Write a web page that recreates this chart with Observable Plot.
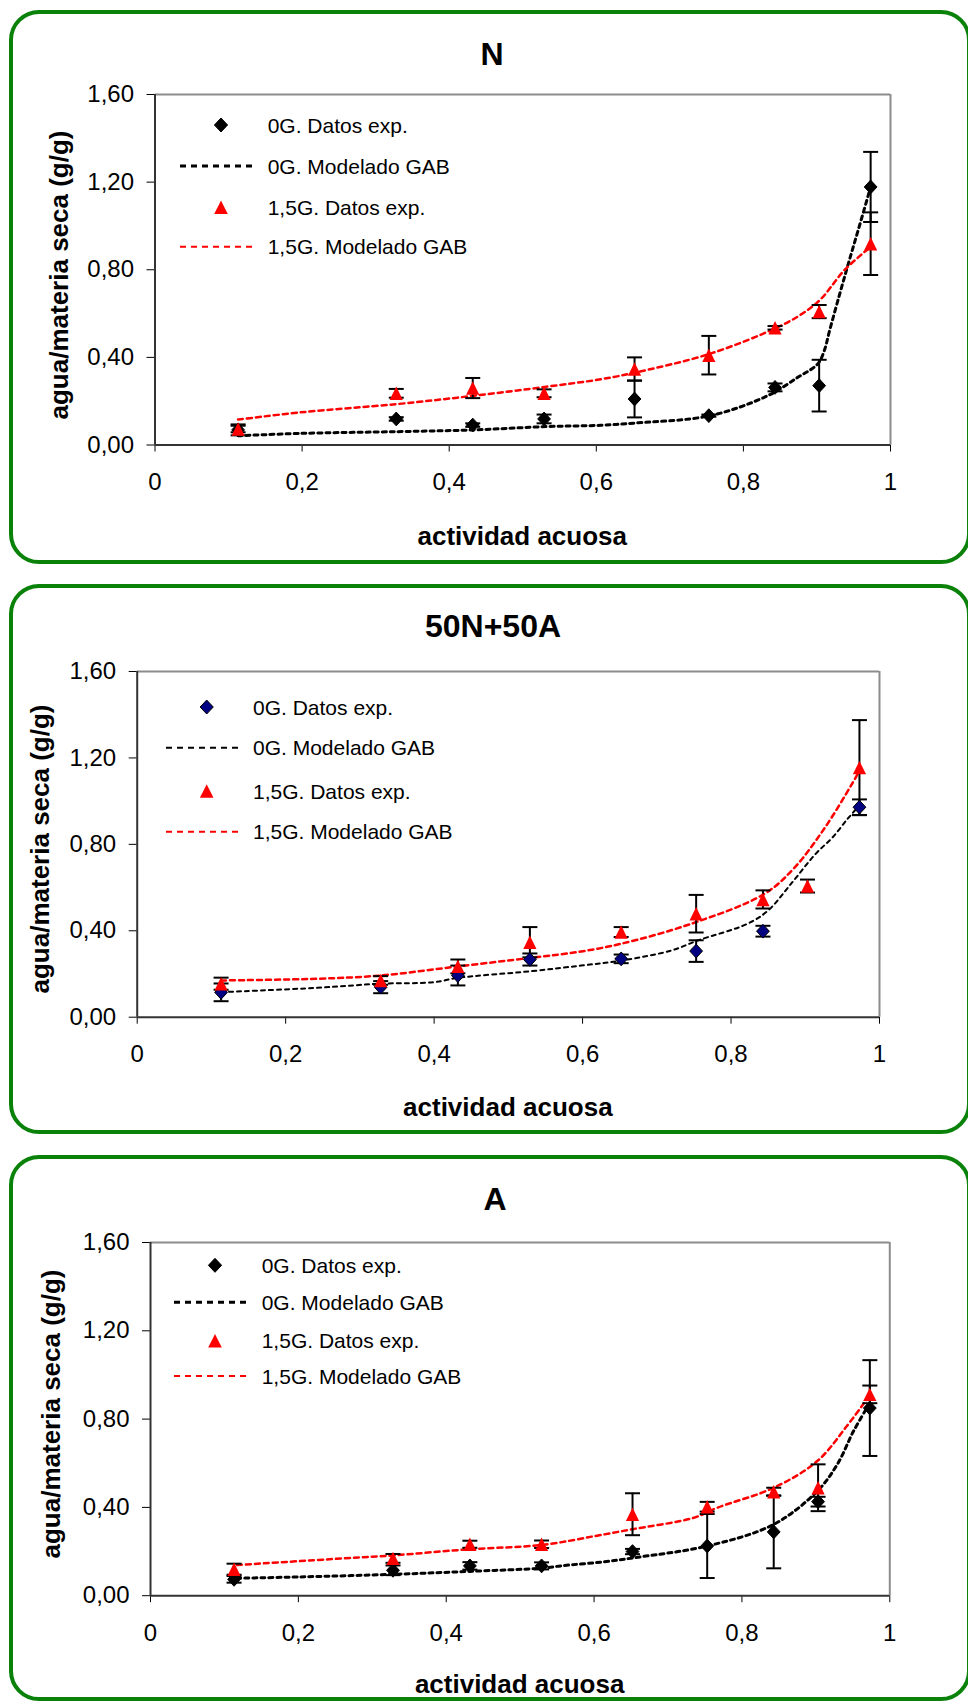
<!DOCTYPE html>
<html><head><meta charset="utf-8">
<script src="https://cdn.jsdelivr.net/npm/d3@7"></script>
<script src="https://cdn.jsdelivr.net/npm/@observablehq/plot@0.6"></script>
<style>
html,body{margin:0;padding:0;background:#fff;overflow:hidden}
#page{position:relative;width:968px;height:1702px;background:#fff;overflow:hidden}
</style></head><body><div id="page"></div>
<script>
// ---------------- data ----------------
const aw = [0.113, 0.328, 0.432, 0.529, 0.652, 0.753, 0.843, 0.903, 0.973];
const xTicks = [0, 0.2, 0.4, 0.6, 0.8, 1];
const yTicks = [0, 0.4, 0.8, 1.2, 1.6];
const titles = ["N", "50N+50A", "A"];
const legendLabels = ["0G. Datos exp.", "0G. Modelado GAB", "1,5G. Datos exp.", "1,5G. Modelado GAB"];
const xLabel = "actividad acuosa";
const yLabel = "agua/materia seca (g/g)";

// N
const n_0G      = [0.069, 0.119, 0.091, 0.119, 0.210, 0.134, 0.263, 0.271, 1.178];
const n_0G_err  = [0.025, 0.008, 0.008, 0.020, 0.084, 0.005, 0.018, 0.118, 0.160];
const n_15G     = [0.073, 0.236, 0.260, 0.236, 0.347, 0.410, 0.535, 0.609, 0.919];
const n_15G_err = [0.015, 0.020, 0.046, 0.018, 0.053, 0.088, 0.008, 0.030, 0.143];
const n_gab0_x  = [0.113, 0.198, 0.330, 0.434, 0.532, 0.606, 0.652, 0.755, 0.833, 0.874, 0.901, 0.910, 0.917, 0.931, 0.944, 0.958, 0.973];
const n_gab0_y  = [0.042, 0.053, 0.061, 0.069, 0.084, 0.090, 0.100, 0.134, 0.225, 0.309, 0.370, 0.431, 0.520, 0.690, 0.843, 1.003, 1.178];
const n_gab15_x = [0.113, 0.198, 0.330, 0.434, 0.532, 0.606, 0.652, 0.755, 0.845, 0.878, 0.905, 0.937, 0.973];
const n_gab15_y = [0.116, 0.149, 0.187, 0.225, 0.266, 0.300, 0.330, 0.417, 0.535, 0.595, 0.665, 0.797, 0.905];

// 50N+50A
const m_0G      = [0.115, 0.139, 0.193, 0.267, 0.270, 0.306, 0.398, null, 0.972];
const m_0G_err  = [0.041, 0.028, 0.046, 0.028, 0.020, 0.050, 0.025, null, 0.036];
const m_15G     = [0.155, 0.170, 0.235, 0.347, 0.394, 0.479, 0.545, 0.607, 1.155];
const m_15G_err = [0.028, 0.020, 0.032, 0.070, 0.023, 0.087, 0.042, 0.030, 0.220];
const m_gab0_x  = [0.113, 0.243, 0.328, 0.400, 0.432, 0.531, 0.598, 0.652, 0.720, 0.755, 0.822, 0.850, 0.881, 0.914, 0.937, 0.957, 0.973];
const m_gab0_y  = [0.116, 0.136, 0.155, 0.162, 0.182, 0.213, 0.239, 0.262, 0.309, 0.355, 0.432, 0.494, 0.618, 0.756, 0.833, 0.918, 0.980];
const m_gab15_x = [0.113, 0.243, 0.328, 0.432, 0.531, 0.598, 0.652, 0.746, 0.845, 0.886, 0.927, 0.963, 0.973];
const m_gab15_y = [0.170, 0.178, 0.193, 0.235, 0.275, 0.304, 0.340, 0.432, 0.571, 0.694, 0.880, 1.080, 1.140];

// A
const a_0G      = [0.074, 0.115, 0.135, 0.135, 0.200, 0.225, 0.289, 0.426, 0.850];
const a_0G_err  = [0.015, 0.022, 0.017, 0.016, 0.012, 0.145, 0.165, 0.022, 0.217];
const a_15G     = [0.120, 0.169, 0.233, 0.233, 0.369, 0.403, 0.471, 0.489, 0.912];
const a_15G_err = [0.025, 0.020, 0.016, 0.017, 0.095, 0.022, 0.018, 0.106, 0.040];
const a_gab0_x  = [0.117, 0.203, 0.330, 0.430, 0.530, 0.555, 0.623, 0.650, 0.753, 0.843, 0.902, 0.929, 0.951, 0.969];
const a_gab0_y  = [0.079, 0.085, 0.097, 0.110, 0.125, 0.135, 0.157, 0.170, 0.225, 0.323, 0.474, 0.595, 0.746, 0.850];
const a_gab15_x = [0.117, 0.261, 0.330, 0.430, 0.530, 0.601, 0.650, 0.735, 0.767, 0.843, 0.902, 0.942, 0.964, 0.973];
const a_gab15_y = [0.139, 0.169, 0.183, 0.210, 0.230, 0.270, 0.300, 0.353, 0.399, 0.489, 0.610, 0.769, 0.867, 0.910];

const panelsData = [
  {e0: [n_0G, n_0G_err], e15: [n_15G, n_15G_err], g0: [n_gab0_x, n_gab0_y], g15: [n_gab15_x, n_gab15_y]},
  {e0: [m_0G, m_0G_err], e15: [m_15G, m_15G_err], g0: [m_gab0_x, m_gab0_y], g15: [m_gab15_x, m_gab15_y]},
  {e0: [a_0G, a_0G_err], e15: [a_15G, a_15G_err], g0: [a_gab0_x, a_gab0_y], g15: [a_gab15_x, a_gab15_y]}
];

// ---------------- layout (pixels) ----------------
const layout = [
  {box: [12, 562], plot: [154.5, 890, 94, 444.5], titleX: 492, titleY: 53,
   legend: {rows: [125, 166, 207.3, 246.7], sym: 221, l1: 180, l2: 257, tx: 267.7, w0: 3},
   xLabelY: 535, yLabelX: 60, yLabelY: 275, diamondFill: "#000000", w0: 3},
  {box: [586, 1132], plot: [136.7, 879, 671, 1016.7], titleX: 493, titleY: 625.7,
   legend: {rows: [707, 747.7, 791, 831.7], sym: 206.7, l1: 166, l2: 243, tx: 253, w0: 2},
   xLabelY: 1106.7, yLabelX: 41, yLabelY: 849, diamondFill: "#000080", w0: 2},
  {box: [1157, 1699], plot: [150, 889.3, 1241.5, 1594.7], titleX: 495, titleY: 1198,
   legend: {rows: [1265.3, 1302.3, 1340.7, 1376], sym: 215, l1: 174, l2: 250.7, tx: 261.7, w0: 3},
   xLabelY: 1683.3, yLabelX: 52, yLabelY: 1414, diamondFill: "#000000", w0: 3}
];

const FONT = "'Liberation Sans', Arial, Helvetica, sans-serif";
const RED = "#ff0000";
const GREEN = "#0a820a";

// custom marker shapes
const diamondSym = {draw(ctx) { const w = 6.4, h = 6.9; ctx.moveTo(0, -h); ctx.lineTo(w, 0); ctx.lineTo(0, h); ctx.lineTo(-w, 0); ctx.closePath(); }};
const triSym = {draw(ctx) { const w = 6.6, h = 6.7; ctx.moveTo(0, -h); ctx.lineTo(w, h); ctx.lineTo(-w, h); ctx.closePath(); }};
const capSym = {draw(ctx) { ctx.moveTo(-7.5, 0); ctx.lineTo(7.5, 0); }};

const fmtX = d => d === 0 ? "0" : d === 1 ? "1" : d.toFixed(1).replace(".", ",");
const fmtY = d => d.toFixed(2).replace(".", ",");

const page = document.getElementById("page");

function expRows(vals, errs) {
  return aw.map((a, i) => ({a, v: vals[i], lo: vals[i] - errs[i], hi: vals[i] + errs[i]})).filter(d => d.v != null);
}
function gabRows(xs, ys) { return xs.map((a, i) => ({a, w: ys[i]})); }

panelsData.forEach((pd, k) => {
  const L = layout[k];
  const [pl, pr, pt, pb] = L.plot;
  const mt = 20, mb = 70;
  const e0 = expRows(pd.e0[0], pd.e0[1]);
  const e15 = expRows(pd.e15[0], pd.e15[1]);
  const g0 = gabRows(pd.g0[0], pd.g0[1]);
  const g15 = gabRows(pd.g15[0], pd.g15[1]);
  const svg = Plot.plot({
    width: 968,
    height: (pb - pt) + mt + mb,
    marginLeft: pl, marginRight: 968 - pr, marginTop: mt, marginBottom: mb,
    style: {fontFamily: FONT, fontSize: "24px", color: "#000", background: "white", overflow: "visible"},
    x: {domain: [0, 1], ticks: xTicks, tickFormat: fmtX, tickSize: 7, tickPadding: 21, label: null},
    y: {domain: [0, 1.6], ticks: yTicks, tickFormat: fmtY, tickSize: 8, tickPadding: 13, label: null},
    marks: [
      Plot.ruleY([1.6], {stroke: "#8c8c8c", strokeWidth: 2}),
      Plot.ruleX([1], {stroke: "#8c8c8c", strokeWidth: 2}),
      Plot.ruleX([0], {stroke: "#333", strokeWidth: 2}),
      Plot.ruleY([0], {stroke: "#333", strokeWidth: 2}),
      Plot.line(g0, {x: "a", y: "w", stroke: "#000", strokeWidth: L.w0, strokeDasharray: "4,4", curve: "catmull-rom"}),
      Plot.line(g15, {x: "a", y: "w", stroke: RED, strokeWidth: 2.5, strokeDasharray: "5,4", curve: "catmull-rom"}),
      Plot.ruleX(e0, {x: "a", y1: "lo", y2: "hi", stroke: "#000", strokeWidth: 2}),
      Plot.dot(e0, {x: "a", y: "lo", symbol: capSym, stroke: "#000", strokeWidth: 2, fill: "none"}),
      Plot.dot(e0, {x: "a", y: "hi", symbol: capSym, stroke: "#000", strokeWidth: 2, fill: "none"}),
      Plot.ruleX(e15, {x: "a", y1: "lo", y2: "hi", stroke: "#000", strokeWidth: 2}),
      Plot.dot(e15, {x: "a", y: "lo", symbol: capSym, stroke: "#000", strokeWidth: 2, fill: "none"}),
      Plot.dot(e15, {x: "a", y: "hi", symbol: capSym, stroke: "#000", strokeWidth: 2, fill: "none"}),
      Plot.dot(e0, {x: "a", y: "v", symbol: diamondSym, fill: L.diamondFill, stroke: "#000", strokeWidth: 1}),
      Plot.dot(e15, {x: "a", y: "v", symbol: triSym, fill: RED, stroke: "none"})
    ]
  });
  svg.style.position = "absolute";
  svg.style.left = "0px";
  svg.style.top = (pt - mt) + "px";
  svg.style.maxWidth = "none";
  page.appendChild(svg);
});

// ---------------- overlay: boxes, titles, legends, axis labels ----------------
const ov = d3.select(page).append("svg")
  .attr("width", 968).attr("height", 1702)
  .style("position", "absolute").style("left", "0px").style("top", "0px")
  .style("pointer-events", "none").style("font-family", FONT);

layout.forEach((L, k) => {
  const [pl, pr, pt, pb] = L.plot;
  ov.append("rect").attr("x", 11).attr("y", L.box[0]).attr("width", 958).attr("height", L.box[1] - L.box[0])
    .attr("rx", 28).attr("ry", 28).attr("fill", "none").attr("stroke", GREEN).attr("stroke-width", 4);
  ov.append("text").attr("x", L.titleX).attr("y", L.titleY + 11.5).attr("text-anchor", "middle")
    .attr("font-size", 32).attr("font-weight", "bold").attr("fill", "#000").text(titles[k]);
  ov.append("text").attr("x", (pl + pr) / 2).attr("y", L.xLabelY + 9.5).attr("text-anchor", "middle")
    .attr("font-size", 26).attr("font-weight", "bold").attr("fill", "#000").text(xLabel);
  ov.append("text").attr("transform", `translate(${L.yLabelX + 8},${L.yLabelY}) rotate(-90)`)
    .attr("text-anchor", "middle").attr("font-size", 26).attr("font-weight", "bold").attr("fill", "#000").text(yLabel);
  // legend
  const lg = L.legend;
  const r = lg.rows;
  ov.append("path").attr("transform", `translate(${lg.sym},${r[0]})`)
    .attr("d", "M0,-7L6.6,0L0,7L-6.6,0Z").attr("fill", L.diamondFill).attr("stroke", "#000").attr("stroke-width", 1);
  ov.append("line").attr("x1", lg.l1).attr("x2", lg.l2).attr("y1", r[1]).attr("y2", r[1])
    .attr("stroke", "#000").attr("stroke-width", lg.w0).attr("stroke-dasharray", "6,5");
  ov.append("path").attr("transform", `translate(${lg.sym},${r[2]})`)
    .attr("d", "M0,-6.7L6.8,6.7L-6.8,6.7Z").attr("fill", RED);
  ov.append("line").attr("x1", lg.l1).attr("x2", lg.l2).attr("y1", r[3]).attr("y2", r[3])
    .attr("stroke", RED).attr("stroke-width", 2).attr("stroke-dasharray", "6,5");
  legendLabels.forEach((t, i) => {
    ov.append("text").attr("x", lg.tx).attr("y", r[i] + 7.5).attr("font-size", 21).attr("fill", "#000").text(t);
  });
});
</script>
</body></html>
